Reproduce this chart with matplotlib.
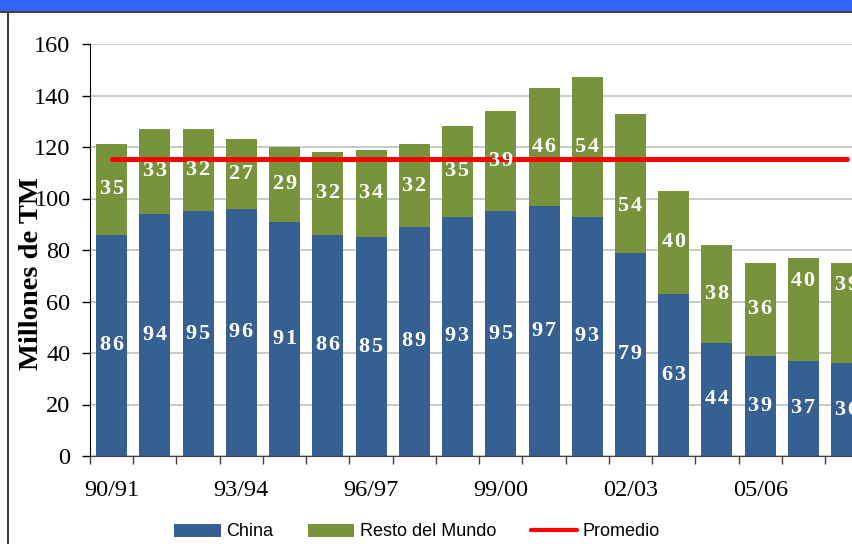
import numpy as np
import matplotlib.pyplot as plt
from matplotlib.patches import Patch, Rectangle
from matplotlib.lines import Line2D

campanas = ['90/91', '91/92', '92/93', '93/94', '94/95', '95/96', '96/97',
            '97/98', '98/99', '99/00', '00/01', '01/02', '02/03', '03/04',
            '04/05', '05/06', '06/07', '07/08']
china = [86, 94, 95, 96, 91, 86, 85, 89, 93, 95, 97, 93, 79, 63, 44, 39, 37, 36]
resto = [35, 33, 32, 27, 29, 32, 34, 32, 35, 39, 46, 54, 54, 40, 38, 36, 40, 39]
promedio = 115.5

azul = '#376092'
verde = '#77933C'
rojo = '#FF0000'

serif = ['Liberation Serif', 'DejaVu Serif']
sans = 'Liberation Sans'

fig = plt.figure(figsize=(8.53, 5.44), dpi=100)

# blue band and frame around the slide
fig.add_artist(Rectangle((0, 1 - 11 / 544), 1, 11 / 544, transform=fig.transFigure,
                         facecolor='#3366FF', edgecolor='none'))
fig.add_artist(Line2D([0, 1], [1 - 11.5 / 544] * 2, transform=fig.transFigure,
                      color='#1A1A1A', lw=1.2))
fig.add_artist(Line2D([8 / 853] * 2, [0, 1 - 12 / 544], transform=fig.transFigure,
                      color='#3F3F3F', lw=1.5))

# the plot area runs past the right edge, so the last bar is cut
ax = fig.add_axes([90 / 853, 88 / 544, 778.3 / 853, 412 / 544])

x = np.arange(len(campanas))
ax.bar(x, china, width=0.717, color=azul, zorder=2)
ax.bar(x, resto, width=0.717, bottom=china, color=verde, zorder=2)
ax.plot([x[0], x[-1]], [promedio, promedio], color=rojo, lw=3.6,
        solid_capstyle='round', zorder=3)


def etiqueta(v):
    # spaced digits, like the sheet's labels
    return '\u200a'.join(str(v))


# a few labels were moved by hand in the original sheet
ajuste_resto = {12: -9, 16: 11, 17: 11}
for i in range(len(campanas)):
    ax.text(x[i], china[i] / 2, etiqueta(china[i]), ha='center', va='center',
            color='white', fontsize=16, fontweight='bold', family=serif,
            zorder=4)
    y = china[i] + resto[i] / 2 + ajuste_resto.get(i, 0)
    ax.text(x[i], y, etiqueta(resto[i]), ha='center', va='center',
            color='white', fontsize=16, fontweight='bold', family=serif,
            zorder=4)

ax.set_xlim(-0.5, len(campanas) - 0.5)
ax.set_ylim(0, 160)
ax.set_yticks(np.arange(0, 161, 20))
ax.yaxis.grid(True, color='#C0C0C0', lw=1.2, zorder=0)
ax.set_axisbelow(True)

ax.set_xticks(x[::3])
ax.set_xticklabels(campanas[::3])
ax.set_xticks(np.arange(-0.5, len(campanas), 1), minor=True)
ax.tick_params(axis='x', which='major', length=0, pad=17)
ax.tick_params(axis='x', which='minor', length=6, width=1, color='#404040',
               direction='out')
ax.tick_params(axis='y', length=6, width=1, color='black', direction='out',
               pad=8)
for lab in ax.get_xticklabels() + ax.get_yticklabels():
    lab.set_family(serif)
    lab.set_fontsize(17.5)

ax.spines['top'].set_visible(False)
ax.spines['right'].set_visible(False)
ax.spines['left'].set_color('black')
ax.spines['bottom'].set_color('#404040')
ax.spines['bottom'].set_zorder(5)

fig.text(32 / 853, 1 - 274 / 544, 'Millones de TM', rotation=90,
         ha='center', va='center', fontsize=20.5, fontweight='bold',
         family=serif)

handles = [Patch(facecolor=azul, edgecolor='none'),
           Patch(facecolor=verde, edgecolor='none'),
           Line2D([], [], color=rojo, lw=3, solid_capstyle='round')]
fig.legend(handles, ['China', 'Resto del Mundo', 'Promedio'], ncol=3,
           loc='center', bbox_to_anchor=(417 / 853, 12 / 544), frameon=False,
           prop={'family': sans, 'size': 13}, handlelength=2.6,
           handleheight=0.7, handletextpad=0.3, columnspacing=1.9,
           borderaxespad=0, borderpad=0)

fig.savefig('out.png', dpi=100)
plt.close(fig)
